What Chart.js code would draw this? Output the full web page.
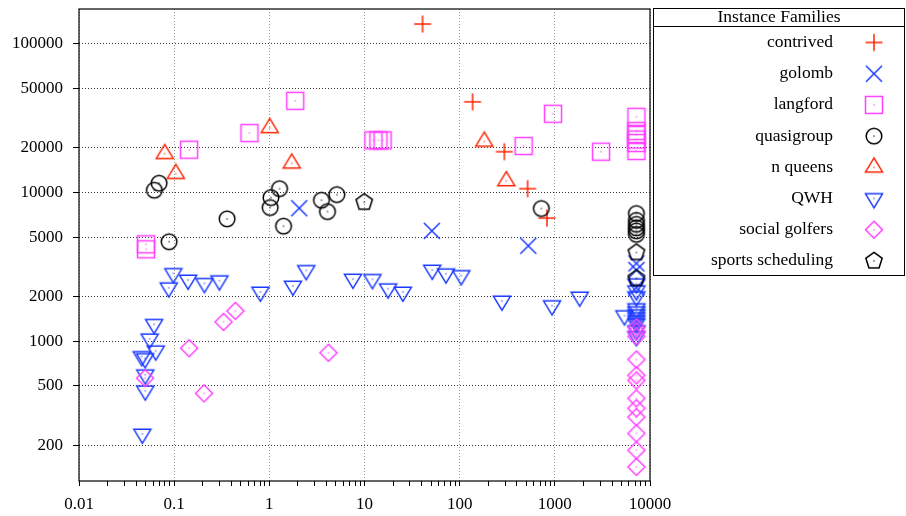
<!DOCTYPE html>
<html><head><meta charset="utf-8">
<script src="https://cdn.jsdelivr.net/npm/chart.js@4/dist/chart.umd.min.js"></script>
<style>html,body{margin:0;padding:0;background:#fff;}canvas{display:block;}</style>
</head><body>
<canvas id="c" width="906" height="516"></canvas>
<script>
// ---------- data ----------
const familyNames = ['contrived','golomb','langford','quasigroup','n queens','QWH','social golfers','sports scheduling'];
const legendTitle = 'Instance Families';
const xTickValues = [0.01,0.1,1,10,100,1000,10000];
const xTickLabels = ['0.01','0.1','1','10','100','1000','10000'];
const yTickValues = [200,500,1000,2000,5000,10000,20000,50000,100000];
const yTickLabels = ['200','500','1000','2000','5000','10000','20000','50000','100000'];

const contrivedX = [40.7,136.7,294.6,517,827];
const contrivedY = [134700,40450,18700,10570,6700];

const golombX = [2.06,51,526,7200,7200,7200];
const golombY = [7810,5505,4370,3325,3002,2290];

const langfordX = [0.0506,0.0506,0.1435,0.618,1.87,12.4,14.0,15.5,470,957,3060,7200,7200,7200,7200,7200,7200];
const langfordY = [4470,4140,19300,24950,41070,22300,22300,22300,20420,33630,18700,32090,25740,24210,22580,21390,18910];

const quasigroupX = [0.0619,0.0694,0.0884,0.36,1.04,1.02,1.28,1.41,3.53,5.12,4.08,721,7200,7200,7200,7200,7200,7200];
const quasigroupY = [10310,11490,4650,6625,9200,7890,10570,5920,8840,9640,7410,7770,7190,6473,6085,5766,5506,5216];

const nqueensX = [0.0796,0.104,1.01,1.72,181.5,309];
const nqueensY = [18140,13320,27100,15640,21950,11910];

const qwhX = [0.0463,0.0497,0.0497,0.0456,0.0495,0.064,0.0553,0.0615,0.0877,0.098,0.140,0.208,0.299,0.806,1.77,2.44,7.55,12.1,17.7,25.3,51.5,71.8,104,278,934,1823,5380,7200,7200,7200,7200,7200,7200,7200,7200,7200,7200,7200];
const qwhY = [238,464,595,789,765,861,1036,1298,2285,2850,2574,2445,2547,2138,2345,2985,2612,2600,2250,2138,3002,2835,2760,1862,1732,1981,1484,2431,2183,1990,1654,1579,1508,1439,1374,1312,1178,1074];

const golfersX = [0.0495,0.1435,0.206,0.330,0.440,4.18,7200,7200,7200,7200,7200,7200,7200,7200,7200,7200,7200,7200];
const golfersY = [564,896,446,1346,1596,835,1239,1160,1074,753,589,545,413,354,309,240,185,143];

const sportsX = [9.93,7200,7200];
const sportsY = [8570,3940,2639];

const seriesX = [contrivedX,golombX,langfordX,quasigroupX,nqueensX,qwhX,golfersX,sportsX];
const seriesY = [contrivedY,golombY,langfordY,quasigroupY,nqueensY,qwhY,golfersY,sportsY];

// ---------- styles ----------
const RED = 'rgb(255,36,0)', BLUE = 'rgb(24,56,255)', MAG = 'rgb(255,64,255)', BLK = '#000';
const FONT = '"Liberation Serif", "Times New Roman", serif';

function mk(color, draw, dot) {
  const s = 24, c = document.createElement('canvas');
  c.width = s; c.height = s;
  const g = c.getContext('2d');
  g.translate(s/2, s/2);
  g.strokeStyle = color; g.fillStyle = color; g.lineWidth = 1.5;
  g.beginPath(); draw(g); g.stroke();
  if (dot) g.fillRect(-0.6, -0.6, 1.2, 1.2);
  return c;
}
function poly(g, pts) { g.moveTo(pts[0][0], pts[0][1]); for (let i=1;i<pts.length;i++) g.lineTo(pts[i][0], pts[i][1]); g.closePath(); }
const markers = [
  mk(RED, g => { g.moveTo(-8.5,0); g.lineTo(8.5,0); g.moveTo(0,-8.5); g.lineTo(0,8.5); }, false),
  mk(BLUE, g => { g.moveTo(-8,-8); g.lineTo(8,8); g.moveTo(-8,8); g.lineTo(8,-8); }, false),
  mk(MAG, g => { g.rect(-8.5,-8.5,17,17); }, true),
  mk(BLK, g => { g.arc(0,0,7.8,0,Math.PI*2); }, true),
  mk(RED, g => poly(g, [[0,-9.3],[8.5,4.7],[-8.5,4.7]]), true),
  mk(BLUE, g => poly(g, [[0,9.3],[8.5,-4.7],[-8.5,-4.7]]), true),
  mk(MAG, g => poly(g, [[0,-8.5],[8.5,0],[0,8.5],[-8.5,0]]), true),
  mk(BLK, g => { const p=[]; for(let k=0;k<5;k++){const a=-Math.PI/2+k*2*Math.PI/5; p.push([8.6*Math.cos(a),8.6*Math.sin(a)]);} poly(g,p); }, true)
];

const datasets = familyNames.map((name, i) => ({
  label: name,
  data: seriesX[i].map((x, j) => ({x: x, y: seriesY[i][j]})),
  pointStyle: markers[i],
  pointRadius: 8,
  order: familyNames.length - i
}));

const xMinor = [];
for (let d = -2; d < 4; d++) for (let m = 2; m <= 9; m++) xMinor.push(m * Math.pow(10, d));
const xAllTicks = xTickValues.concat(xMinor).sort((a,b)=>a-b);
const isMajorX = v => xTickValues.some(t => Math.abs(Math.log10(t) - Math.log10(v)) < 1e-9);

const framePlugin = {
  id: 'frameLegend',
  afterDraw(chart) {
    const ctx = chart.ctx, a = chart.chartArea;
    ctx.save();
    ctx.strokeStyle = '#000'; ctx.lineWidth = 1.2;
    ctx.strokeRect(a.left, a.top, a.right - a.left, a.bottom - a.top);
    // legend box
    const bx = a.right + 3, by = a.top - 1, bw = 905 - bx, bh = 267;
    ctx.lineWidth = 1;
    ctx.strokeRect(bx + 0.5, by + 0.5, bw - 1, bh);
    ctx.beginPath(); ctx.moveTo(bx, by + 18.5); ctx.lineTo(bx + bw, by + 18.5); ctx.stroke();
    ctx.fillStyle = '#000';
    ctx.font = '17.5px ' + FONT;
    ctx.textBaseline = 'middle';
    ctx.textAlign = 'center';
    ctx.fillText(legendTitle, bx + bw/2, by + 9.5);
    ctx.textAlign = 'right';
    familyNames.forEach((name, i) => {
      const y = by + 34.5 + i * 31.2;
      ctx.fillText(name, 833, y);
      const m = markers[i];
      ctx.drawImage(m, 874 - m.width/2, y - m.height/2);
    });
    ctx.restore();
  }
};

new Chart(document.getElementById('c'), {
  type: 'scatter',
  data: { datasets },
  options: {
    responsive: false,
    animation: false,
    events: [],
    layout: { padding: { left: 0, right: 256, top: 7, bottom: 0 } },
    plugins: { legend: { display: false }, tooltip: { enabled: false } },
    scales: {
      x: {
        type: 'logarithmic', min: 0.01, max: 10000,
        afterBuildTicks: s => { s.ticks = xAllTicks.map(v => ({value: v})); },
        afterFit: s => { s.height = 35; s.paddingLeft = 0; s.paddingRight = 0; },
        ticks: {
          autoSkip: false, maxRotation: 0, minRotation: 0, padding: 8,
          color: '#000', font: { family: FONT, size: 17 },
          callback: v => { const i = xTickValues.findIndex(t => Math.abs(t - v) / t < 1e-9); return i >= 0 ? xTickLabels[i] : ''; }
        },
        grid: {
          color: c => (c.tick && isMajorX(c.tick.value)) ? '#999' : 'rgba(0,0,0,0)',
          tickColor: '#000', tickLength: 5, lineWidth: 1
        },
        border: { display: false, dash: [1,2] }
      },
      y: {
        type: 'logarithmic', min: 115, max: 170000,
        afterBuildTicks: s => { s.ticks = yTickValues.map(v => ({value: v})); },
        afterFit: s => { s.width = 79; s.paddingTop = 0; s.paddingBottom = 0; },
        ticks: {
          autoSkip: false, padding: 10,
          color: '#000', font: { family: FONT, size: 17 },
          callback: v => { const i = yTickValues.findIndex(t => Math.abs(t - v) / t < 1e-9); return i >= 0 ? yTickLabels[i] : ''; }
        },
        grid: { color: '#333', tickColor: '#000', tickLength: 6, lineWidth: 1 },
        border: { display: false, dash: [1,2] }
      }
    }
  },
  plugins: [framePlugin]
});
</script>
</body></html>
